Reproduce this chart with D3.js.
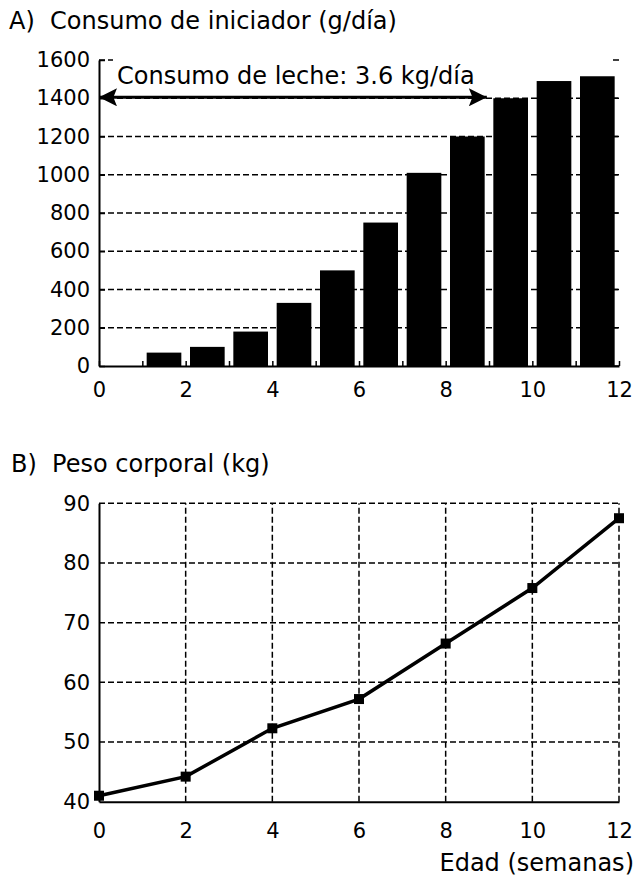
<!DOCTYPE html>
<html>
<head>
<meta charset="utf-8">
<script src="https://cdn.jsdelivr.net/npm/d3@7"></script>
<style>
  body { margin: 0; background: #fff; }
  svg text { font-family: "DejaVu Sans", sans-serif; fill: #000; }
</style>
</head>
<body>
<svg id="drawing_region"></svg>
<script>
// A) consumo de iniciador (g/dia), una barra por semana
const weeks = [1, 2, 3, 4, 5, 6, 7, 8, 9, 10, 11];
const starter = [70, 100, 180, 330, 500, 750, 1010, 1200, 1400, 1490, 1515];
const starterTicks = [0, 200, 400, 600, 800, 1000, 1200, 1400, 1600];
// B) peso corporal (kg)
const ages = [0, 2, 4, 6, 8, 10, 12];
const weight = [41, 44.2, 52.3, 57.2, 66.5, 75.8, 87.5];
const weightTicks = [40, 50, 60, 70, 80, 90];
const xTicks = [0, 2, 4, 6, 8, 10, 12];
const milkRange = [0, 8.95];
const milkLevel = 1405;

const svg = d3.select('#drawing_region')
    .attr('width', 636)
    .attr('height', 880);

const xscale = d3.scaleLinear().domain([0, 12]).range([99, 619]);
const fs = 21;      // tick labels
const fsTitle = 24; // titles and notes

// ---------- A ----------
const yA = d3.scaleLinear().domain([0, 1600]).range([366, 60]);

svg.append('text')
    .attr('x', 9).attr('y', 29)
    .attr('font-size', fsTitle)
    .attr('xml:space', 'preserve')
    .style('white-space', 'pre')
    .text('A)  Consumo de iniciador (g/día)');

// grid
svg.append('g').selectAll('line')
    .data(starterTicks.filter(d => d > 0 && d < 1600))
    .join('line')
    .attr('x1', xscale(0)).attr('x2', xscale(12))
    .attr('y1', d => yA(d)).attr('y2', d => yA(d))
    .attr('stroke', '#000').attr('stroke-width', 1.5)
    .attr('stroke-dasharray', '6,3');

// bars
svg.append('g').selectAll('rect')
    .data(weeks)
    .join('rect')
    .attr('x', (d, i) => xscale(d + 0.1))
    .attr('width', xscale(0.8) - xscale(0))
    .attr('y', (d, i) => yA(starter[i]))
    .attr('height', (d, i) => yA(0) - yA(starter[i]))
    .attr('fill', '#000');

// right-side ticks
svg.append('g').selectAll('line')
    .data(starterTicks)
    .join('line')
    .attr('x1', xscale(12) - 6).attr('x2', xscale(12))
    .attr('y1', d => yA(d)).attr('y2', d => yA(d))
    .attr('stroke', '#000').attr('stroke-width', 1.5);

// top short marks
svg.append('line')
    .attr('x1', xscale(0)).attr('x2', xscale(0) + 14)
    .attr('y1', yA(1600)).attr('y2', yA(1600))
    .attr('stroke', '#000').attr('stroke-width', 1.5)
    .attr('stroke-dasharray', '6,3');

const yaxisA = d3.axisLeft(yA).tickValues(starterTicks).tickSize(-6).tickSizeOuter(0).tickPadding(9)
    .tickFormat(d3.format('d'));
svg.append('g').attr('transform', `translate(${xscale(0)},0)`).call(yaxisA);

const xaxisA = d3.axisBottom(xscale).tickValues(d3.range(0, 13)).tickSize(-5).tickSizeOuter(0).tickPadding(16)
    .tickFormat(d => d % 2 === 0 ? d : '');
svg.append('g').attr('transform', `translate(0,${yA(0)})`).call(xaxisA);

// arrow for milk
const defs = svg.append('defs');
defs.append('marker')
    .attr('id', 'head')
    .attr('viewBox', '0 0 10 10')
    .attr('refX', 10).attr('refY', 5)
    .attr('markerWidth', 7).attr('markerHeight', 6)
    .attr('markerUnits', 'strokeWidth')
    .attr('orient', 'auto-start-reverse')
    .append('path')
    .attr('d', 'M0,0 L10,5 L0,10 L2,5 Z')
    .attr('fill', '#000');

svg.append('line')
    .attr('x1', xscale(milkRange[0])).attr('x2', xscale(milkRange[1]))
    .attr('y1', yA(milkLevel)).attr('y2', yA(milkLevel))
    .attr('stroke', '#000').attr('stroke-width', 3)
    .attr('marker-start', 'url(#head)')
    .attr('marker-end', 'url(#head)');

svg.append('text')
    .attr('x', 117).attr('y', 84)
    .attr('font-size', fsTitle)
    .text('Consumo de leche: 3.6 kg/día');

// ---------- B ----------
const yB = d3.scaleLinear().domain([40, 90]).range([801.7, 503.3]);

svg.append('text')
    .attr('x', 11).attr('y', 472)
    .attr('font-size', fsTitle)
    .style('white-space', 'pre')
    .text('B)  Peso corporal (kg)');

svg.append('g').selectAll('line')
    .data(weightTicks.filter(d => d > 40))
    .join('line')
    .attr('x1', xscale(0)).attr('x2', xscale(12))
    .attr('y1', d => yB(d)).attr('y2', d => yB(d))
    .attr('stroke', '#000').attr('stroke-width', 1.5)
    .attr('stroke-dasharray', '6,3');

svg.append('g').selectAll('line')
    .data(xTicks.filter(d => d > 0))
    .join('line')
    .attr('x1', d => xscale(d)).attr('x2', d => xscale(d))
    .attr('y1', yB(40)).attr('y2', yB(90))
    .attr('stroke', '#000').attr('stroke-width', 1.5)
    .attr('stroke-dasharray', '6,3');

const yaxisB = d3.axisLeft(yB).tickValues(weightTicks).tickSize(0).tickSizeOuter(0).tickPadding(9);
svg.append('g').attr('transform', `translate(${xscale(0)},0)`).call(yaxisB);

const xaxisB = d3.axisBottom(xscale).tickValues(xTicks).tickSize(0).tickSizeOuter(0).tickPadding(21);
svg.append('g').attr('transform', `translate(0,${yB(40)})`).call(xaxisB);

const line = d3.line()
    .x((d, i) => xscale(ages[i]))
    .y(d => yB(d));

svg.append('path')
    .datum(weight)
    .attr('d', line)
    .attr('fill', 'none')
    .attr('stroke', '#000')
    .attr('stroke-width', 3.5);

svg.append('g').selectAll('rect')
    .data(weight)
    .join('rect')
    .attr('x', (d, i) => xscale(ages[i]) - 5)
    .attr('y', d => yB(d) - 5)
    .attr('width', 10).attr('height', 10)
    .attr('fill', '#000');

svg.append('text')
    .attr('x', 634).attr('y', 871)
    .attr('text-anchor', 'end')
    .attr('font-size', fsTitle)
    .text('Edad (semanas)');

// axis styling
svg.selectAll('.domain').attr('stroke', '#000').attr('stroke-width', 2);
svg.selectAll('.tick line').attr('stroke', '#000').attr('stroke-width', 1.5);
svg.selectAll('.tick text').attr('font-size', fs).attr('font-family', '"DejaVu Sans", sans-serif');
</script>
</body>
</html>
